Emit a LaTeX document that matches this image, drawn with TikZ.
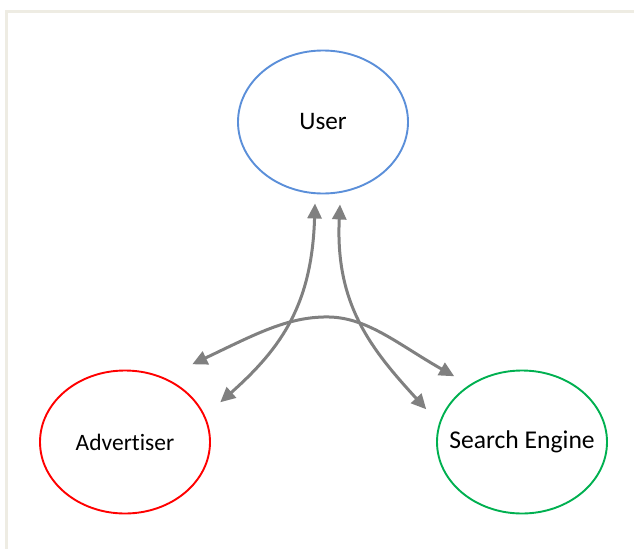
\documentclass[tikz,border=0pt]{standalone}
\usepackage{fontspec}
\setmainfont{Carlito}[Ligatures=NoCommon]
\usetikzlibrary{shapes.geometric,arrows.meta,calc}
\definecolor{framecol}{HTML}{EEECE3}
\definecolor{userblue}{HTML}{5B8FD9}
\definecolor{advred}{HTML}{FF0000}
\definecolor{segreen}{HTML}{00B050}
\definecolor{linkgray}{HTML}{808080}
\tikzset{
  party/.style={ellipse, draw, line width=1.9pt, minimum width=170pt,
    minimum height=143pt, inner sep=0pt, font=\fontsize{24.5}{28}\selectfont},
  link/.style={draw=linkgray, line width=3pt,
    {Triangle[length=15pt,width=14pt]}-{Triangle[length=15pt,width=14pt]}}
}
\begin{document}
\begin{tikzpicture}[x=1pt, y=-1pt]
  \useasboundingbox (0,0) rectangle (634,549);
  % page frame
  \fill[framecol] (5,10) rectangle (634,13);
  \fill[framecol] (5,10) rectangle (8,549);

  % the three parties (labels take no width, so every ellipse keeps its size)
  \node[party, draw=userblue, font=\fontsize{25.2}{29}\selectfont]
    (user) at (323,122) {\makebox[0pt]{User}};
  \node[party, draw=advred, font=\fontsize{23.5}{27}\selectfont]
    (adv) at (125,442) {\makebox[0pt]{Advertiser}};
  \node[party, draw=segreen, font=\fontsize{25.6}{29}\selectfont]
    (se) at (522,442) {\makebox[0pt]{Search Engine}};

  % connector ends, a short gap away from each ellipse
  \coordinate (uL) at ($(user.south)+(-8,9)$);
  \coordinate (uR) at ($(user.south)+(17,10)$);
  \coordinate (aIn) at ($(adv.north east)+(34.5,11.5)$);
  \coordinate (aTop) at ($(adv.north east)+(6.5,-26.5)$);
  \coordinate (sIn) at ($(se.north west)+(-35,18.5)$);
  \coordinate (sTop) at ($(se.north west)+(-7,-14.5)$);
  \coordinate (crest) at ($(user.south)+(4,122.5)$);

  % connectors
  \draw[link] (uL) .. controls ($(uL)+(-3,100)$) and ($(aIn)+(62,-55)$) .. (aIn);
  \draw[link] (uR) .. controls ($(uR)+(-5,100)$) and ($(sIn)+(-55,-60)$) .. (sIn);
  \draw[link] (aTop) .. controls ($(aTop)+(63,-30)$) and ($(crest)+(-40,0)$) .. (crest)
                     .. controls ($(crest)+(40,0)$) and ($(sTop)+(-57,-32.5)$) .. (sTop);
\end{tikzpicture}
\end{document}
